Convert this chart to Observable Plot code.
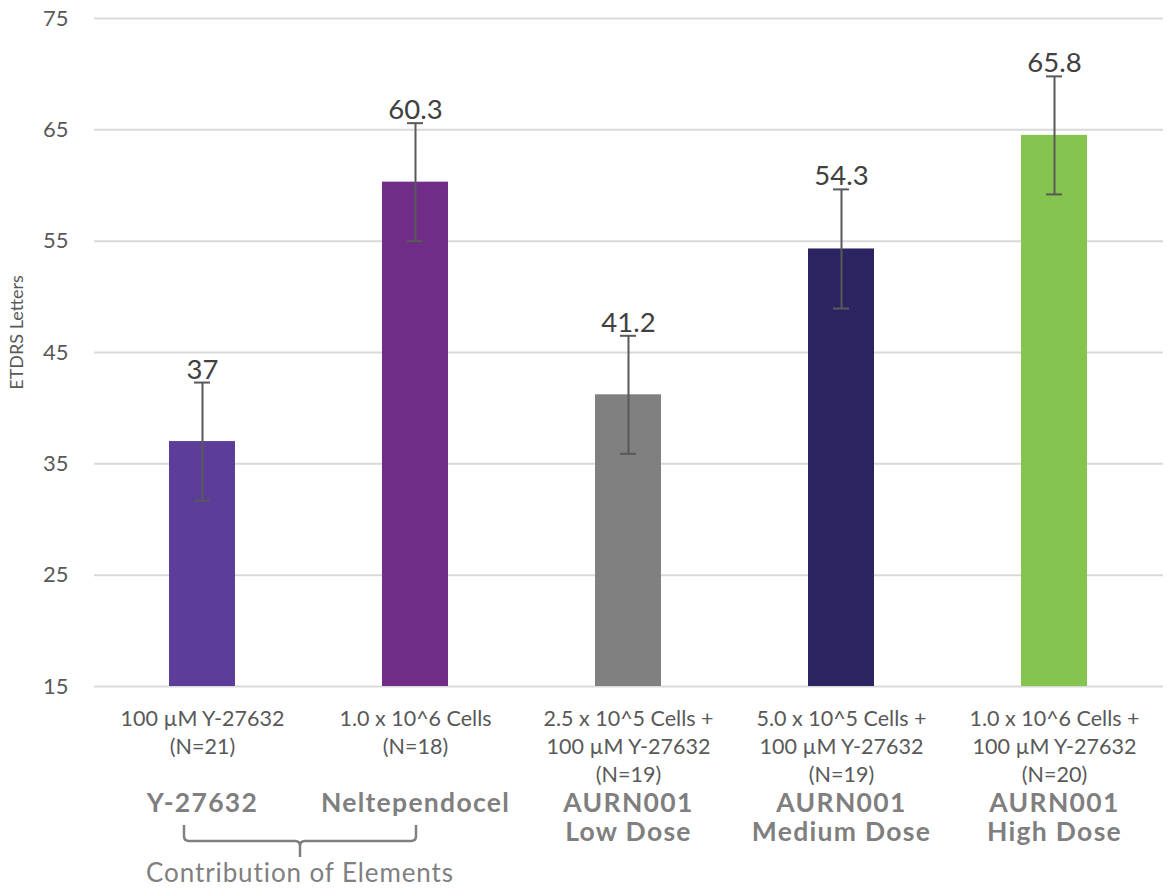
<!DOCTYPE html>
<html>
<head>
<meta charset="utf-8">
<script src="https://cdn.jsdelivr.net/npm/d3@7"></script>
<script src="https://cdn.jsdelivr.net/npm/@observablehq/plot@0.6"></script>
<style>
  html, body { margin: 0; padding: 0; background: #ffffff; }
  #chart svg { display: block; }
  #chart svg g[font-weight="bold"] text { letter-spacing: 1.3px; }
</style>
</head>
<body>
<div id="chart"></div>
<script>
// ---- data ----
const conditions = [
  "100 µM Y-27632\n(N=21)",
  "1.0 x 10^6 Cells\n(N=18)",
  "2.5 x 10^5 Cells +\n100 µM Y-27632\n(N=19)",
  "5.0 x 10^5 Cells +\n100 µM Y-27632\n(N=19)",
  "1.0 x 10^6 Cells +\n100 µM Y-27632\n(N=20)"
];
const groups = [
  "Y-27632",
  "Neltependocel",
  "AURN001\nLow Dose",
  "AURN001\nMedium Dose",
  "AURN001\nHigh Dose"
];
const means = [37.0, 60.3, 41.2, 54.3, 64.5];
const valueLabels = ["37", "60.3", "41.2", "54.3", "65.8"];
const errors = [5.3, 5.3, 5.3, 5.35, 5.3];
const barColors = ["#5c3d99", "#6f2d87", "#808080", "#2c2461", "#84c44f"];
const yTicks = [15, 25, 35, 45, 55, 65, 75];
const yLabel = "ETDRS Letters";
const bracketLabel = "Contribution of Elements";
const bracketMembers = [0, 1];

const data = conditions.map((c, i) => ({
  cond: c, group: groups[i], mean: means[i], err: errors[i],
  label: valueLabels[i], color: barColors[i]
}));

const FONT = "Lato, 'Open Sans', sans-serif";

const plot = Plot.plot({
  width: 1171,
  height: 896,
  marginLeft: 94,
  marginRight: 8,
  marginTop: 18,
  marginBottom: 210,
  style: { fontFamily: FONT, background: "#ffffff", overflow: "visible" },
  x: { domain: conditions, paddingInner: 0.69, paddingOuter: 0.345, axis: null },
  y: { domain: [yTicks[0], yTicks[yTicks.length - 1]], axis: null },
  marks: [
    Plot.gridY(yTicks, { stroke: "#d9d9d9", strokeOpacity: 1, strokeWidth: 2 }),
    Plot.axisY(yTicks, {
      tickSize: 0, tickPadding: 26, fontSize: 22, fill: "#595959",
      label: null, tickFormat: d => String(d)
    }),
    Plot.barY(data, { x: "cond", y1: () => yTicks[0], y2: "mean", fill: "color" }),
    Plot.ruleX(data, {
      x: "cond", y1: d => d.mean - d.err, y2: d => d.mean + d.err,
      stroke: "#595959", strokeWidth: 2
    }),
    Plot.tickY(data, { x: "cond", y: d => d.mean - d.err, stroke: "#595959", strokeWidth: 2, inset: 25 }),
    Plot.tickY(data, { x: "cond", y: d => d.mean + d.err, stroke: "#595959", strokeWidth: 2, inset: 25 }),
    Plot.text(data, {
      x: "cond", y: d => d.mean + d.err, text: "label",
      lineAnchor: "bottom", dy: -4, fontSize: 27.5, fill: "#404040"
    }),
    Plot.text(data, {
      x: "cond", frameAnchor: "bottom", text: "cond",
      lineAnchor: "top", dy: 20, fontSize: 21.5, lineHeight: 1.29, fill: "#595959"
    }),
    Plot.text(data, {
      x: "cond", frameAnchor: "bottom", text: "group",
      lineAnchor: "top", dy: 104, fontSize: 26.5, lineHeight: 1.12,
      fontWeight: "bold", fill: "#7f7f7f"
    }),
    Plot.text([yLabel], {
      frameAnchor: "left", text: d => d, rotate: -90, textAnchor: "middle",
      dx: -77, dy: -20, fontSize: 18, fill: "#595959"
    })
  ]
});

document.getElementById("chart").appendChild(plot);

// bracket under the first two groups, positioned from the plot's own scales
const xs = plot.scale("x");
const ys = plot.scale("y");
const bw = xs.bandwidth;
const c0 = xs.apply(conditions[bracketMembers[0]]) + bw / 2;
const c1 = xs.apply(conditions[bracketMembers[1]]) + bw / 2;
const L = c0 - 18, R = c1 + 1, M = (L + R) / 2;
const base = ys.apply(yTicks[0]);
const yTop = base + 139, yMid = base + 155, yBot = base + 171, r = 5;
const svg = d3.select(plot);
svg.append("path")
  .attr("d", `M${L},${yTop} V${yMid - r} Q${L},${yMid} ${L + r},${yMid} H${M - r} Q${M},${yMid} ${M},${yMid + r} V${yBot} M${M},${yMid + r} Q${M},${yMid} ${M + r},${yMid} H${R - r} Q${R},${yMid} ${R},${yMid - r} V${yTop}`)
  .attr("fill", "none")
  .attr("stroke", "#7f7f7f")
  .attr("stroke-width", 2.5);
svg.append("text")
  .attr("x", M)
  .attr("y", base + 196)
  .attr("text-anchor", "middle")
  .attr("font-family", FONT)
  .attr("font-size", 26)
  .attr("letter-spacing", "0.9px")
  .attr("fill", "#7f7f7f")
  .text(bracketLabel);
</script>
</body>
</html>
